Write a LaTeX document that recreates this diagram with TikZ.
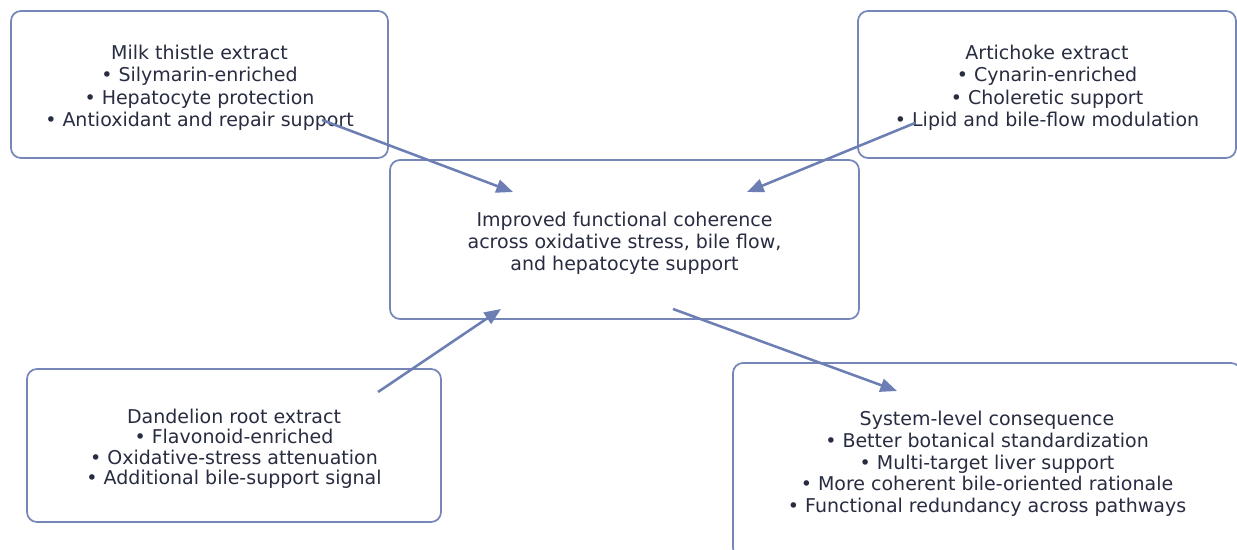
\documentclass[tikz,border=0pt]{standalone}
\usepackage{fontspec}
\setmainfont{DejaVu Sans}
\usetikzlibrary{arrows.meta}
\definecolor{boxline}{RGB}{118,134,184}
\definecolor{linkcol}{RGB}{108,126,180}
\definecolor{textcol}{RGB}{40,44,64}
\newcommand{\topgap}{\rule{0pt}{16pt}}
\tikzset{
  box/.style={draw=boxline, line width=1.3pt, rounded corners=7.5pt, align=center,
              text=textcol, inner sep=0pt, font=\fontsize{14.25pt}{16.5pt}\selectfont},
  link/.style={draw=linkcol, line width=1.9pt, -{Triangle[length=12.5pt, width=10pt]}},
}

\begin{document}
\begin{tikzpicture}[x=0.75pt, y=-0.75pt]
\useasboundingbox[fill=white] (0,0) rectangle (1237,549);
\clip (0,0) rectangle (1237,549);

%draw the five boxes
\node[box, minimum width=282.75pt, minimum height=110.25pt,
      font=\fontsize{14.25pt}{16.9pt}\selectfont] (milk) at (199.5,84.5)
  {\topgap Milk thistle extract\\ • Silymarin-enriched\\ • Hepatocyte protection\\ • Antioxidant and repair support};
\node[box, minimum width=283.5pt, minimum height=110.25pt,
      font=\fontsize{14.25pt}{16.9pt}\selectfont] (artichoke) at (1047,84.5)
  {\topgap Artichoke extract\\ • Cynarin-enriched\\ • Choleretic support\\ • Lipid and bile-flow modulation};
\node[box, minimum width=351.75pt, minimum height=119.25pt] (coherence) at (624.5,239.5)
  {\topgap Improved functional coherence\\ across oxidative stress, bile flow,\\ and hepatocyte support};
\node[box, minimum width=310.5pt, minimum height=114.75pt,
      font=\fontsize{14.25pt}{15.3pt}\selectfont] (dandelion) at (234,445.5)
  {\topgap Dandelion root extract\\ • Flavonoid-enriched\\ • Oxidative-stress attenuation\\ • Additional bile-support signal};
\node[box, minimum width=381pt, minimum height=146.25pt,
      font=\fontsize{14.25pt}{16.3pt}\selectfont] (system) at (987,460.5)
  {\topgap System-level consequence\\ • Better botanical standardization\\ • Multi-target liver support\\
   • More coherent bile-oriented rationale\\ • Functional redundancy across pathways};

%arrow ends
\coordinate (milk-out)      at (322,120);
\coordinate (artichoke-out) at (915,123);
\coordinate (dandelion-out) at (378,392);
\coordinate (coherence-out) at (673,309);
\coordinate (coherence-in1) at (513,192);
\coordinate (coherence-in2) at (747,192);
\coordinate (coherence-in3) at (501,309);
\coordinate (system-in)     at (897,391);

%draw arrows
\draw[link] (milk-out)      -- (coherence-in1);
\draw[link] (artichoke-out) -- (coherence-in2);
\draw[link] (dandelion-out) -- (coherence-in3);
\draw[link] (coherence-out) -- (system-in);
\end{tikzpicture}
\end{document}
